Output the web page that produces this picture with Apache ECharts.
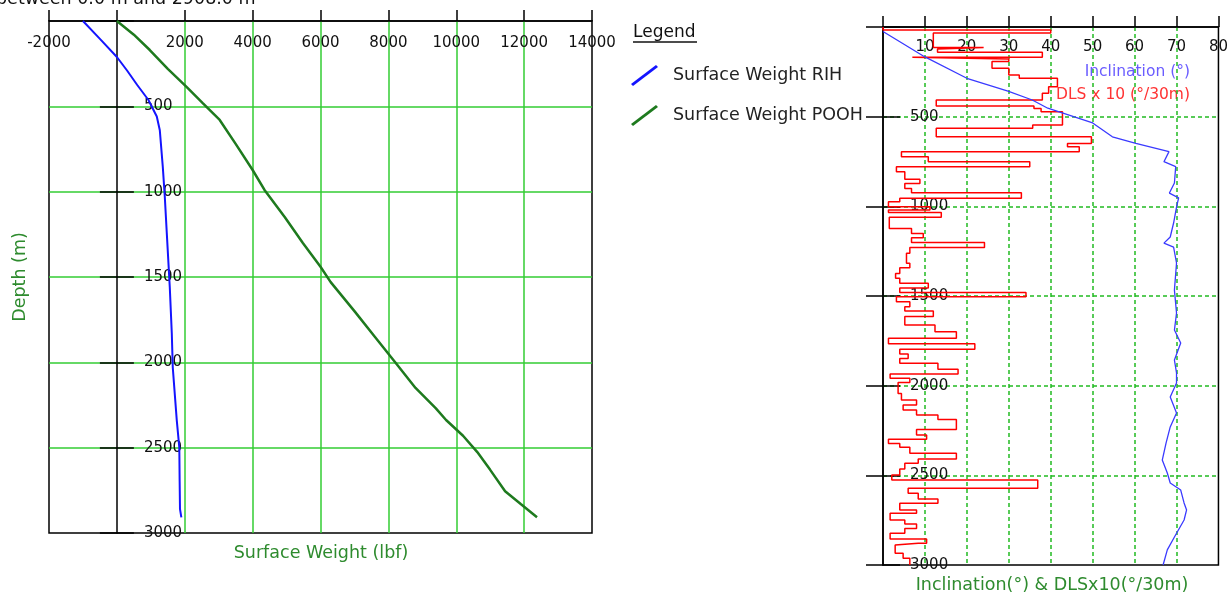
<!DOCTYPE html>
<html>
<head>
<meta charset="utf-8">
<script src="https://cdn.jsdelivr.net/npm/echarts@6/dist/echarts.min.js"></script>
<style>
html,body{margin:0;padding:0;background:#fff;}
#chart{width:1231px;height:596px;}
</style>
</head>
<body>
<div id="chart"></div>
<script>
// ---- Left chart: surface weight vs depth ----
const rihDepth  = [0, 105, 211, 290, 375, 463, 560, 640, 855, 1030, 1240, 1560, 1830, 2030, 2340, 2500, 2700, 2860, 2908];
const rihWeight = [-1000, -500, 0, 300, 600, 930, 1176, 1265, 1353, 1412, 1470, 1559, 1618, 1647, 1765, 1840, 1850, 1860, 1900];

const poohDepth  = [0, 80, 170, 280, 387, 481, 580, 720, 873, 990, 1150, 1301, 1440, 1530, 1700, 1850, 2000, 2150, 2270, 2338, 2430, 2526, 2630, 2755, 2830, 2908];
const poohWeight = [0, 500, 970, 1500, 2060, 2530, 3030, 3500, 4000, 4350, 4950, 5480, 6000, 6300, 7000, 7600, 8200, 8800, 9400, 9700, 10200, 10620, 11000, 11440, 11900, 12380];

// ---- Right chart: inclination and DLS x10 vs depth ----
const incDepth = [25, 167, 286, 357, 407, 453, 535, 612, 649, 695, 751, 779, 870, 926, 953, 1004, 1093, 1171, 1205, 1227, 1316, 1467, 1595, 1690, 1762, 1857, 1929, 1985, 2063, 2152, 2230, 2320, 2415, 2487, 2543, 2582, 2654, 2693, 2749, 2844, 2916, 3000];
const incValue = [0, 10, 20, 29.8, 35.6, 39.3, 50, 54.7, 60.3, 68.2, 67, 69.8, 69.5, 68.3, 70.5, 70, 69.3, 68.5, 67, 69.3, 70, 69.5, 70, 69.5, 71, 69.5, 70, 70, 68.5, 70, 68.5, 67.5, 66.6, 67.8, 68.5, 71, 71.8, 72.4, 71.8, 69.5, 67.8, 66.8];

// DLS x10: value holds from each depth until the next depth
const dlsDepth = [0, 17, 33, 115, 123, 141, 169, 178, 193, 230, 268, 286, 333, 370, 407, 441, 455, 472, 547, 565, 612, 649, 668, 695, 723, 751, 779, 807, 849, 872, 900, 924, 955, 974, 1003, 1020, 1035, 1061, 1123, 1151, 1175, 1201, 1230, 1262, 1318, 1342, 1374, 1401, 1429, 1455, 1480, 1504, 1532, 1560, 1584, 1615, 1662, 1699, 1736, 1766, 1797, 1823, 1848, 1875, 1909, 1935, 1959, 1983, 2043, 2080, 2108, 2136, 2164, 2188, 2244, 2275, 2299, 2322, 2344, 2377, 2409, 2433, 2465, 2498, 2526, 2572, 2600, 2632, 2656, 2693, 2712, 2749, 2771, 2796, 2823, 2855, 2879, 2889, 2935, 2963, 3000];
const dlsValue = [0, 40, 12, 24, 13, 38, 7, 30, 26, 30, 32.5, 41.6, 39.5, 38, 12.7, 36, 37.7, 42.8, 35.7, 12.7, 49.7, 44.0, 46.8, 4.4, 10.8, 35, 3.2, 5.2, 8.8, 5.2, 6.8, 33, 4.0, 1.3, 11.2, 1.3, 13.9, 1.5, 6.8, 9.6, 6.8, 24.2, 6.4, 5.6, 6.4, 4.0, 3.0, 4.0, 10.8, 4.0, 34.1, 3.2, 6.4, 5.2, 12.0, 5.2, 12.4, 17.5, 1.3, 21.9, 4.0, 6.0, 4.0, 13.1, 17.9, 1.7, 6.4, 3.6, 4.4, 8.0, 4.8, 8.0, 13.1, 17.5, 8.0, 10.4, 1.3, 4.0, 6.4, 17.5, 8.4, 5.2, 4.0, 2.1, 36.9, 6.0, 8.4, 13.1, 4.0, 8.0, 1.7, 5.2, 8.0, 5.2, 1.7, 10.4, 8.4, 2.9, 4.8, 6.4, 6.4];

const weightTicks = {min: -2000, max: 14000, interval: 2000};
const depthTicks = {min: 0, max: 3000, interval: 500};
const angleTicks = {min: 0, max: 80, interval: 10};

const FONT = 'DejaVu Sans';
const GRID_GREEN = '#33cc33';
const DASH_GREEN = '#22bb22';
const NAME_GREEN = '#2e8b2e';
const T = 'rgba(0,0,0,0)';

const g0 = {left: 49, top: 21, width: 543, height: 512};
const g1 = {left: 883, top: 27, width: 337, height: 538};
const zeroOffset = -(0 - weightTicks.min) / (weightTicks.max - weightTicks.min) * g0.width;

const hideZero = v => (v === 0 ? '' : String(v));
const labelStyle = {color: '#111', fontSize: 15, fontFamily: FONT};

function yAxesFor(gridIndex, offset, splitStyle) {
  return [
    {
      gridIndex, type: 'value', position: 'left', offset, inverse: true,
      min: depthTicks.min, max: depthTicks.max, interval: depthTicks.interval,
      axisLine: {show: true, onZero: false, lineStyle: {color: '#000', width: 1.5}},
      axisTick: {show: true, length: 17, lineStyle: {color: '#000', width: 1.5}},
      axisLabel: Object.assign({inside: true, margin: 27, formatter: hideZero}, labelStyle),
      splitLine: {show: true, lineStyle: splitStyle}
    },
    {
      gridIndex, type: 'value', position: 'left', offset, inverse: true,
      min: depthTicks.min, max: depthTicks.max, interval: depthTicks.interval,
      axisLine: {show: false, onZero: false},
      axisTick: {show: true, inside: true, length: 17, lineStyle: {color: '#000', width: 1.5}},
      axisLabel: {show: false},
      splitLine: {show: false}
    }
  ];
}

const chart = echarts.init(document.getElementById('chart'), null, {renderer: 'canvas'});

const diagIcon = 'path://M0,19 L25,0 L27,2 L2,21 Z';

const option = {
  animation: false,
  backgroundColor: '#fff',
  grid: [
    Object.assign({show: true, borderColor: '#000', borderWidth: 1.5, backgroundColor: 'transparent'}, g0),
    Object.assign({show: true, borderColor: '#000', borderWidth: 1.5, backgroundColor: 'transparent'}, g1)
  ],
  xAxis: [
    {
      gridIndex: 0, type: 'value', position: 'top',
      min: weightTicks.min, max: weightTicks.max, interval: weightTicks.interval,
      axisLine: {show: true, onZero: false, lineStyle: {color: '#000', width: 1.5}},
      axisTick: {show: true, length: 11, lineStyle: {color: '#000', width: 1.5}},
      axisLabel: Object.assign({inside: true, margin: 15, formatter: hideZero}, labelStyle),
      splitLine: {show: true, lineStyle: {color: [T, T, GRID_GREEN, GRID_GREEN, GRID_GREEN, GRID_GREEN, GRID_GREEN, GRID_GREEN, T], width: 1.5}}
    },
    {
      gridIndex: 1, type: 'value', position: 'top',
      min: angleTicks.min, max: angleTicks.max, interval: angleTicks.interval,
      axisLine: {show: true, onZero: false, lineStyle: {color: '#000', width: 1.5}},
      axisTick: {show: true, length: 11, lineStyle: {color: '#000', width: 1.5}},
      axisLabel: Object.assign({inside: true, margin: 13, formatter: hideZero}, labelStyle),
      splitLine: {show: true, lineStyle: {color: [T, DASH_GREEN, DASH_GREEN, DASH_GREEN, DASH_GREEN, DASH_GREEN, DASH_GREEN, DASH_GREEN, T], width: 1.5, type: [4, 3]}}
    }
  ],
  yAxis: [].concat(
    yAxesFor(0, zeroOffset, {color: [T, GRID_GREEN, GRID_GREEN, GRID_GREEN, GRID_GREEN, GRID_GREEN, T], width: 1.5}),
    yAxesFor(1, 0, {color: [T, DASH_GREEN, DASH_GREEN, DASH_GREEN, DASH_GREEN, DASH_GREEN, T], width: 1.5, type: [4, 3]})
  ),
  legend: {
    left: 626, top: 60, orient: 'vertical',
    itemWidth: 27, itemHeight: 21, itemGap: 19,
    data: [
      {name: 'Surface Weight RIH', icon: diagIcon},
      {name: 'Surface Weight POOH', icon: diagIcon}
    ],
    textStyle: {fontSize: 17.5, color: '#222', fontFamily: FONT, padding: [0, 0, 5, 10]}
  },
  graphic: [
    {type: 'text', x: -4, y: -10, style: {text: 'between 0.0 m and 2908.0 m', font: '17.5px "DejaVu Sans"', fill: '#111'}},
    {type: 'text', x: 633, y: 33, style: {text: 'Legend', font: '17px "DejaVu Sans"', fill: '#111', verticalAlign: 'middle'}},
    {type: 'line', shape: {x1: 633, y1: 42, x2: 697, y2: 42}, style: {stroke: '#111', lineWidth: 1.5}},
    {type: 'text', x: 20, y: 277, rotation: Math.PI / 2, style: {text: 'Depth (m)', font: '17.5px "DejaVu Sans"', fill: NAME_GREEN, align: 'center', verticalAlign: 'middle'}},
    {type: 'text', x: 321, y: 553, style: {text: 'Surface Weight (lbf)', font: '17.5px "DejaVu Sans"', fill: NAME_GREEN, align: 'center', verticalAlign: 'middle'}},
    {type: 'text', x: 1052, y: 585, style: {text: 'Inclination(°) & DLSx10(°/30m)', font: '17.5px "DejaVu Sans"', fill: NAME_GREEN, align: 'center', verticalAlign: 'middle'}},
    {type: 'text', x: 1190, y: 72, style: {text: 'Inclination (°)', font: '15.5px "DejaVu Sans"', fill: '#6a5cff', align: 'right', verticalAlign: 'middle'}},
    {type: 'text', x: 1190, y: 95, style: {text: 'DLS x 10 (°/30m)', font: '15.5px "DejaVu Sans"', fill: '#ff3333', align: 'right', verticalAlign: 'middle'}}
  ],
  series: [
    {
      name: 'Surface Weight RIH', type: 'line', xAxisIndex: 0, yAxisIndex: 0,
      data: rihWeight.map((w, i) => [w, rihDepth[i]]),
      symbol: 'none', color: '#1414ff', lineStyle: {color: '#1414ff', width: 2}, z: 5
    },
    {
      name: 'Surface Weight POOH', type: 'line', xAxisIndex: 0, yAxisIndex: 0,
      data: poohWeight.map((w, i) => [w, poohDepth[i]]),
      symbol: 'none', color: '#1e7a1e', lineStyle: {color: '#1e7a1e', width: 2.5}, z: 5
    },
    {
      name: 'Inclination', type: 'line', xAxisIndex: 1, yAxisIndex: 2,
      data: incValue.map((v, i) => [v, incDepth[i]]),
      symbol: 'none', color: '#3a3aff', lineStyle: {color: '#3a3aff', width: 1.3}, z: 5
    },
    {
      name: 'DLS x10', type: 'line', xAxisIndex: 1, yAxisIndex: 2, step: 'start',
      data: dlsValue.map((v, i) => [v, dlsDepth[i]]),
      symbol: 'none', color: '#ff0000', lineStyle: {color: '#ff0000', width: 1.5}, z: 4
    }
  ]
};

chart.setOption(option);
</script>
</body>
</html>
